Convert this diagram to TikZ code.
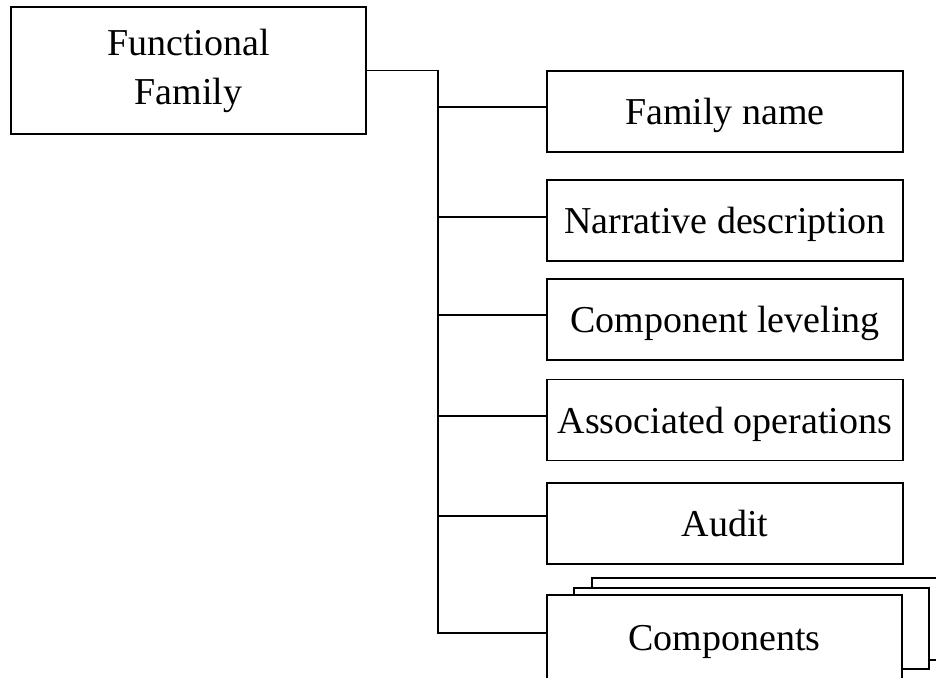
\documentclass[tikz,border=0pt]{standalone}
\usepackage{fontspec}
\setmainfont{Liberation Serif}
\begin{document}
\begin{tikzpicture}[x=1pt,y=-1pt,
  box/.style={draw=black,line width=1.6pt,fill=white,minimum width=356pt,minimum height=81pt,inner sep=0pt,font=\fontsize{38}{49}\selectfont},
  txt/.style={text height=26pt,text depth=0pt},
  link/.style={draw=black,line width=1.6pt}]
\clip (0,0) rectangle (936,677);
\fill[white] (0,0) rectangle (936,677);
\node[box,minimum width=355pt,minimum height=127pt,align=center] (ff) at (188.5,70.5) {Functional\\Family};
\node[box,txt] (fn) at (725,111.5) {Family name};
\node[box,txt] (nd) at (725,220.5) {Narrative description};
\node[box,txt] (cl) at (725,319.5) {Component leveling};
\node[box,txt] (ao) at (725,420) {Associated operations};
\node[box,txt] (au) at (725,523.5) {Audit};
\node[box,minimum width=355pt,minimum height=82pt] (cback) at (769.5,619) {};
\node[box,minimum width=355pt] (cmid) at (751.5,628.5) {};
\node[box,txt,minimum width=355pt,minimum height=84pt] (comp) at (724.5,637) {Components};
\coordinate (jtop) at (438,70.5);
\coordinate (jbot) at (438,633);
\coordinate (b1) at (438,107);
\coordinate (b2) at (438,217);
\coordinate (b3) at (438,315);
\coordinate (b4) at (438,416);
\coordinate (b5) at (438,516);
\draw[link] (ff.east) -- (jtop) -- (jbot) -- (jbot -| comp.west);
\draw[link] (b1) -- (b1 -| fn.west);
\draw[link] (b2) -- (b2 -| nd.west);
\draw[link] (b3) -- (b3 -| cl.west);
\draw[link] (b4) -- (b4 -| ao.west);
\draw[link] (b5) -- (b5 -| au.west);
\end{tikzpicture}
\end{document}
